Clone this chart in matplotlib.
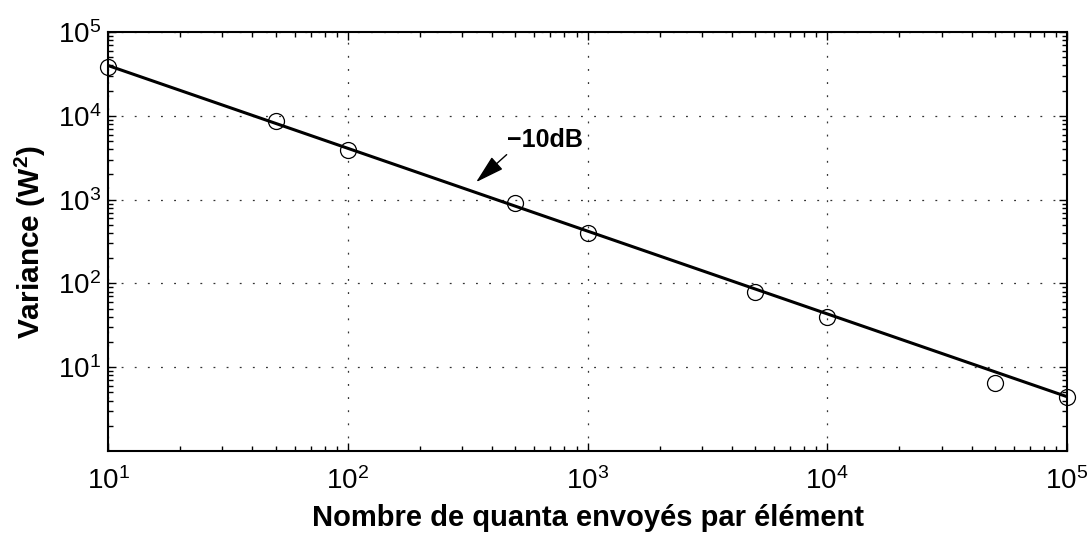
import numpy as np
from matplotlib import pyplot as plt

# Measured variance against number of quanta sent per element
quanta = [10, 50, 100, 500, 1000, 5000, 10000, 50000, 100000]
variance = [3.87e4, 8.8e3, 3.9e3, 920, 400, 79, 40, 6.45, 4.47]

# Fitted -10 dB/decade trend, end points
fit_x = [10, 100000]
fit_y = [4.0e4, 4.45]

y_ticks = [1e1, 1e2, 1e3, 1e4, 1e5]
x_ticks = [1e1, 1e2, 1e3, 1e4, 1e5]

# slope annotation: text anchor, arrow tail and tip (data coords)
note_text = '\u221210dB'
note_xy = (461, 5140)
arrow_tail = (460, 3450)
arrow_tip = (343, 1620)

plt.rcParams['font.family'] = ['Liberation Sans', 'DejaVu Sans']
plt.rcParams['mathtext.fontset'] = 'custom'
plt.rcParams['mathtext.rm'] = 'Liberation Sans'
plt.rcParams['mathtext.bf'] = 'Liberation Sans:bold'
plt.rcParams['mathtext.default'] = 'regular'


def pow10_label(v):
    return r'$10^{%d}$' % int(round(np.log10(v)))


fig = plt.figure(figsize=(10.91, 5.36), dpi=100)
ax = fig.add_axes([0.099, 0.1586, 0.879, 0.7814])

ax.plot(fit_x, fit_y, color='black', linewidth=2.2, zorder=3)
ax.plot(quanta, variance, linestyle='none', marker='o', markersize=11.5,
        markerfacecolor='none', markeredgecolor='black', markeredgewidth=0.9,
        zorder=4, clip_on=False)

ax.set_xscale('log')
ax.set_yscale('log')
ax.set_xlim(10, 1e5)
ax.set_ylim(1, 1e5)
ax.set_xticks(x_ticks)
ax.set_xticklabels([pow10_label(v) for v in x_ticks])
ax.set_yticks(y_ticks)
ax.set_yticklabels([pow10_label(v) for v in y_ticks])

ax.tick_params(which='both', direction='in', top=True, right=True,
               labelsize=20, color='black')
ax.tick_params(which='major', length=6, width=1)
ax.tick_params(which='minor', length=3.8, width=1)
ax.tick_params(axis='x', which='major', pad=12)
ax.tick_params(axis='y', which='major', pad=5)
for sp in ax.spines.values():
    sp.set_linewidth(1.5)

ax.grid(True, which='major', color='#333333', linestyle=(0, (1.5, 9)),
        linewidth=0.9)
ax.grid(False, which='minor')

ax.set_xlabel('Nombre de quanta envoyés par élément', fontsize=21,
              fontweight='bold', labelpad=6)
ax.set_ylabel(r'Variance (W$^{2}$)', fontsize=21.5, fontweight='bold',
              labelpad=7)

ax.text(note_xy[0], note_xy[1], note_text, fontsize=18, fontweight='bold',
        ha='left', va='center')
ax.annotate('', xy=arrow_tip, xytext=arrow_tail,
            arrowprops=dict(arrowstyle='-|>,head_length=0.6,head_width=0.17',
                            color='black', lw=1, mutation_scale=30,
                            shrinkA=0, shrinkB=0))

fig.savefig('out.png', dpi=100)
